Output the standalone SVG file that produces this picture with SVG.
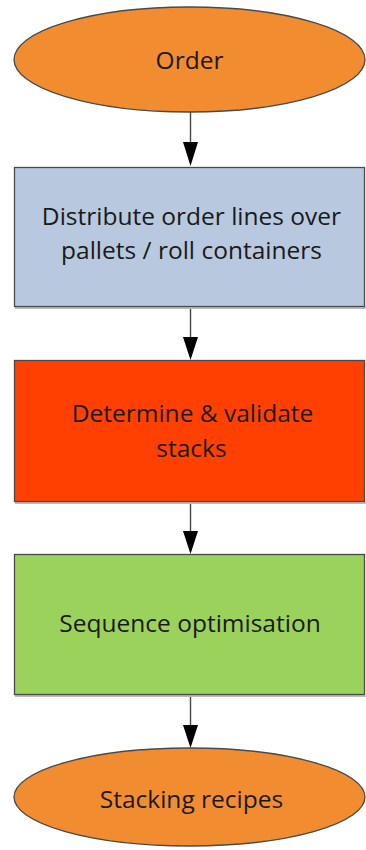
<svg xmlns="http://www.w3.org/2000/svg" width="366" height="850" viewBox="0 0 366 850">
<defs>
<style>
.n{stroke:#4a4a4a;stroke-width:1.3}
.t{font-family:"Open Sans","Liberation Sans",sans-serif;font-size:24.5px;fill:#1a1a1a;text-anchor:middle}
.c{stroke:#444;stroke-width:1.4;fill:none}
.sh{fill:#bbb}
.ah{fill:#000}
</style>
</defs>
<rect width="366" height="850" fill="#fff"/>
<g id="connectors">
<path class="c" d="M190.5,112 V142"/>
<path class="ah" d="M183,142 H198 L190.5,166 Z"/>
<path class="c" d="M190.5,308 V337"/>
<path class="ah" d="M183,337 H198 L190.5,360 Z"/>
<path class="c" d="M190.5,503 V531"/>
<path class="ah" d="M183,531 H198 L190.5,554 Z"/>
<path class="c" d="M190.5,696 V725"/>
<path class="ah" d="M183,725 H198 L190.5,748 Z"/>
</g>
<g id="order">
<ellipse class="n" cx="189.5" cy="59.5" rx="175.5" ry="52.5" fill="#F28C30"/>
<text class="t" x="189.5" y="69">Order</text>
</g>
<g id="distribute">
<rect class="sh" x="15" y="307" width="351" height="2"/>
<rect class="n" x="14.5" y="167.5" width="350" height="139" fill="#B8C9DF"/>
<text class="t" x="191.5" y="225">Distribute order lines over</text>
<text class="t" x="191.5" y="259">pallets / roll containers</text>
</g>
<g id="determine">
<rect class="sh" x="15" y="502" width="351" height="2"/>
<rect class="n" x="14.5" y="360.5" width="350" height="141" fill="#FF4000"/>
<text class="t" x="192.5" y="422">Determine &amp; validate</text>
<text class="t" x="191.5" y="457">stacks</text>
</g>
<g id="sequence">
<rect class="sh" x="15" y="695" width="351" height="2"/>
<rect class="n" x="14.5" y="554.5" width="350" height="140" fill="#9BD25B"/>
<text class="t" x="190" y="632">Sequence optimisation</text>
</g>
<g id="recipes">
<ellipse class="n" cx="189.5" cy="797" rx="175.5" ry="49" fill="#F28C30"/>
<text class="t" x="191.5" y="808">Stacking recipes</text>
</g>
</svg>
